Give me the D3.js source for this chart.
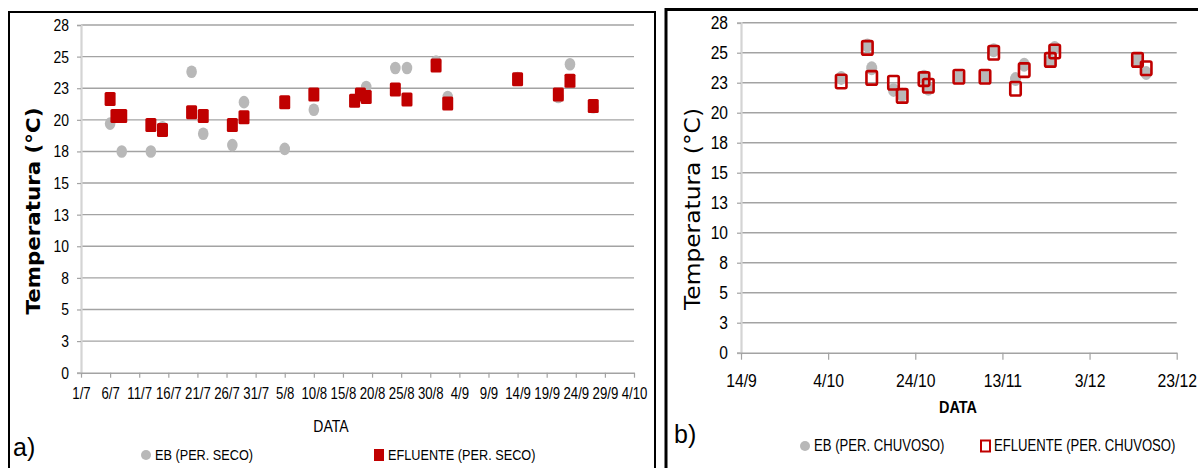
<!DOCTYPE html>
<html>
<head>
<meta charset="utf-8">
<script src="https://cdn.jsdelivr.net/npm/d3@7"></script>
<style>
  html, body { margin: 0; padding: 0; background: #fff; }
  svg { display: block; }
</style>
</head>
<body>
<svg id="chart" width="1198" height="468"></svg>
<script>
// ---------- DATA ----------
// y-axis: Excel major unit 2.5, labels shown rounded
const yTickValues = [0, 2.5, 5, 7.5, 10, 12.5, 15, 17.5, 20, 22.5, 25, 27.5];
const yTickLabels = ["0", "3", "5", "8", "10", "13", "15", "18", "20", "23", "25", "28"];

// a) dry period
const secoTickDates = ["2012-07-01","2012-07-06","2012-07-11","2012-07-16","2012-07-21","2012-07-26","2012-07-31",
  "2012-08-05","2012-08-10","2012-08-15","2012-08-20","2012-08-25","2012-08-30","2012-09-04","2012-09-09",
  "2012-09-14","2012-09-19","2012-09-24","2012-09-29","2012-10-04"];
const ebSecoDates = ["2012-07-06","2012-07-08","2012-07-13","2012-07-15","2012-07-20","2012-07-22","2012-07-27",
  "2012-07-29","2012-08-05","2012-08-10","2012-08-17","2012-08-19","2012-08-24","2012-08-26","2012-08-31",
  "2012-09-02","2012-09-14","2012-09-21","2012-09-23","2012-09-27"];
const ebSecoValues = [19.7, 17.5, 17.5, 19.4, 23.8, 18.9, 18.0, 21.4, 17.7, 20.8, 21.5, 22.6, 24.1, 24.1, 24.6,
  21.8, 23.3, 21.8, 24.4, 21.0];
const efSecoDates = ["2012-07-06","2012-07-07","2012-07-08","2012-07-13","2012-07-15","2012-07-20","2012-07-22",
  "2012-07-27","2012-07-29","2012-08-05","2012-08-10","2012-08-17","2012-08-18","2012-08-19","2012-08-24",
  "2012-08-26","2012-08-31","2012-09-02","2012-09-14","2012-09-21","2012-09-23","2012-09-27"];
const efSecoValues = [21.65, 20.3, 20.3, 19.6, 19.2, 20.6, 20.3, 19.6, 20.2, 21.4, 22.0, 21.5, 22.0, 21.8, 22.4,
  21.6, 24.3, 21.3, 23.2, 22.0, 23.1, 21.1];

// b) rainy period
const chuvosoTickDates = ["2012-09-14","2012-10-04","2012-10-24","2012-11-13","2012-12-03","2012-12-23"];
const ebChuvosoDates = ["2012-10-07","2012-10-13","2012-10-14","2012-10-19","2012-10-21","2012-10-26","2012-10-27",
  "2012-11-03","2012-11-09","2012-11-11","2012-11-16","2012-11-18","2012-11-24","2012-11-25","2012-12-14","2012-12-16"];
const ebChuvosoValues = [22.9, 25.6, 23.7, 21.9, 21.5, 23.0, 22.0, 23.0, 23.0, 25.2, 22.8, 24.0, 24.3, 25.4, 24.4, 23.3];
const efChuvosoDates = ebChuvosoDates;
const efChuvosoValues = [22.6, 25.4, 22.9, 22.5, 21.4, 22.8, 22.25, 23.0, 23.0, 25.0, 22.0, 23.55, 24.4, 25.1, 24.4, 23.7];

const yTitle = "Temperatura (°C)";
const xTitle = "DATA";

// ---------- DRAW ----------
const parse = d3.utcParse("%Y-%m-%d");
const fmt = d3.utcFormat("%-d/%-m");
const svg = d3.select("#chart");
const FONT = "'Liberation Sans', Arial, sans-serif";
const RED = "#c00000", GRAY = "#b8b8b8";

// emulate a condensed face by scaling text horizontally around its anchor
function narrow(sel, f) {
  sel.each(function () {
    const t = d3.select(this);
    const x0 = +t.attr("x") || 0;
    t.attr("x", x0 / f).attr("transform", `scale(${f},1)`);
  });
  return sel;
}

// frames
svg.append("rect").attr("x", 9).attr("y", 12).attr("width", 646).attr("height", 470)
  .attr("fill", "none").attr("stroke", "#000").attr("stroke-width", 2);
svg.append("rect").attr("x", 666).attr("y", 9.5).attr("width", 560).attr("height", 470)
  .attr("fill", "none").attr("stroke", "#000").attr("stroke-width", 3);

function panel(cfg) {
  const g = svg.append("g");
  const x = d3.scaleUtc().domain([parse(cfg.ticks[0]), parse(cfg.ticks[cfg.ticks.length - 1])])
    .range([cfg.x0, cfg.x1]);
  const y = d3.scaleLinear().domain([0, 27.5]).range([cfg.y0, cfg.y1]);

  // gridlines
  g.append("g").selectAll("line").data(yTickValues.slice(1)).join("line")
    .attr("x1", cfg.x0).attr("x2", cfg.x1)
    .attr("y1", d => y(d)).attr("y2", d => y(d))
    .attr("stroke", "#a3a3a3").attr("stroke-width", 1.4);

  // y axis
  const ya = g.append("g").attr("transform", `translate(${cfg.x0},0)`)
    .call(d3.axisLeft(y).tickValues(yTickValues).tickSize(4).tickPadding(cfg.yPad)
      .tickFormat((d, i) => yTickLabels[i]));
  ya.select(".domain").attr("stroke", "#d4d4d4").attr("stroke-width", 2.2);
  ya.selectAll(".tick line").attr("stroke", "#a3a3a3").attr("stroke-width", 1.2);
  narrow(ya.selectAll(".tick text").attr("font-family", FONT).attr("font-size", cfg.yFont).attr("fill", "#000"), 0.82);

  // x axis
  const xa = g.append("g").attr("transform", `translate(0,${cfg.y0})`)
    .call(d3.axisBottom(x).tickValues(cfg.ticks.map(parse)).tickSize(cfg.xTick).tickSizeOuter(0)
      .tickPadding(cfg.xPad).tickFormat(fmt));
  xa.select(".domain").attr("stroke", "#a3a3a3").attr("stroke-width", 1.4);
  xa.selectAll(".tick line").attr("stroke", "#a3a3a3").attr("stroke-width", 1.2);
  narrow(xa.selectAll(".tick text").attr("font-family", FONT).attr("font-size", cfg.xFont).attr("fill", "#000"), cfg.xNarrow);

  // EB points
  g.append("g").selectAll("ellipse").data(cfg.ebD.map((d, i) => [parse(d), cfg.ebV[i]])).join("ellipse")
    .attr("cx", d => x(d[0])).attr("cy", d => y(d[1]))
    .attr("rx", cfg.erx).attr("ry", cfg.ery).attr("fill", GRAY);

  // EFLUENTE points
  const pts = cfg.efD.map((d, i) => [parse(d), cfg.efV[i]]);
  const s = g.append("g").selectAll("rect").data(pts).join("rect")
    .attr("x", d => x(d[0]) - cfg.sw / 2).attr("y", d => y(d[1]) - cfg.sh / 2)
    .attr("width", cfg.sw).attr("height", cfg.sh).attr("rx", 1.5);
  if (cfg.hollow) s.attr("fill", "none").attr("stroke", RED).attr("stroke-width", 2.6);
  else s.attr("fill", RED);

  // y title
  g.append("text").attr("transform", `translate(${cfg.ytX},${cfg.ytY}) rotate(-90)`)
    .attr("text-anchor", "middle").attr("dominant-baseline", "central")
    .attr("font-family", "'DejaVu Sans', sans-serif").attr("font-size", cfg.ytFont)
    .attr("font-weight", cfg.ytWeight).attr("textLength", cfg.ytLen).attr("lengthAdjust", "spacingAndGlyphs")
    .text(yTitle);

  // x title
  narrow(g.append("text").attr("x", cfg.xtX).attr("y", cfg.xtY).attr("text-anchor", "middle")
    .attr("dominant-baseline", "central").attr("font-family", FONT).attr("font-size", cfg.xtFont)
    .attr("font-weight", cfg.xtWeight).text(xTitle), 0.85);

  // panel letter
  g.append("text").attr("x", cfg.letX).attr("y", cfg.letY).attr("dominant-baseline", "central")
    .attr("font-family", FONT).attr("font-size", 25).text(cfg.letter);

  // legend
  const lg = g.append("g").attr("font-family", FONT).attr("font-size", cfg.legFont);
  lg.append("circle").attr("cx", cfg.leg1X).attr("cy", cfg.legY).attr("r", 5).attr("fill", GRAY);
  narrow(lg.append("text").attr("x", cfg.leg1X + 9).attr("y", cfg.legY).attr("dominant-baseline", "central").text(cfg.leg1), 0.82);
  const lr = lg.append("rect").attr("x", cfg.leg2X).attr("y", cfg.legY - 6).attr("width", 10).attr("height", 12);
  if (cfg.hollow) lr.attr("fill", "none").attr("stroke", RED).attr("stroke-width", 2).attr("x", cfg.leg2X + 1).attr("width", 9).attr("y", cfg.legY - 5.5).attr("height", 11);
  else lr.attr("fill", RED);
  narrow(lg.append("text").attr("x", cfg.leg2X + 14).attr("y", cfg.legY).attr("dominant-baseline", "central").text(cfg.leg2), 0.82);
}

panel({
  ticks: secoTickDates, x0: 81, x1: 634, y0: 372.7, y1: 25,
  yPad: 8, yFont: 17, xTick: 5, xPad: 10, xFont: 16.5, xNarrow: 0.8,
  ebD: ebSecoDates, ebV: ebSecoValues, efD: efSecoDates, efV: efSecoValues,
  erx: 5.3, ery: 6.3, sw: 11, sh: 14, hollow: false,
  ytX: 33, ytY: 211, ytFont: 20, ytWeight: "bold", ytLen: 207,
  xtX: 331, xtY: 426, xtFont: 16.5, xtWeight: "normal",
  letter: "a)", letX: 13, letY: 447,
  legFont: 15.5, legY: 455, leg1X: 146, leg1: "EB (PER. SECO)", leg2X: 374, leg2: "EFLUENTE (PER. SECO)"
});

panel({
  ticks: chuvosoTickDates, x0: 741, x1: 1176.7, y0: 352.7, y1: 22.7,
  yPad: 9, yFont: 19, xTick: 7, xPad: 14, xFont: 19, xNarrow: 0.83,
  ebD: ebChuvosoDates, ebV: ebChuvosoValues, efD: efChuvosoDates, efV: efChuvosoValues,
  erx: 5.5, ery: 7, sw: 10.5, sh: 13.5, hollow: true,
  ytX: 693, ytY: 209, ytFont: 21, ytWeight: "normal", ytLen: 202,
  xtX: 958, xtY: 407, xtFont: 17, xtWeight: "bold",
  letter: "b)", letX: 674, letY: 434,
  legFont: 16, legY: 446, leg1X: 805, leg1: "EB (PER. CHUVOSO)", leg2X: 980, leg2: "EFLUENTE (PER. CHUVOSO)"
});
</script>
</body>
</html>
